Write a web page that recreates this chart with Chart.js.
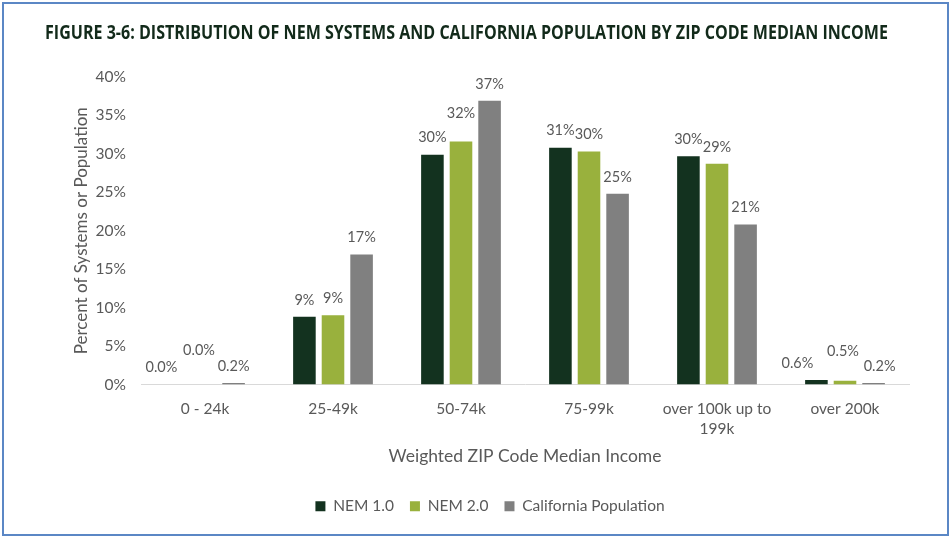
<!DOCTYPE html>
<html>
<head>
<meta charset="utf-8">
<script src="https://cdn.jsdelivr.net/npm/chart.js@4.4.1/dist/chart.umd.min.js"></script>
<style>
  html, body { margin: 0; padding: 0; background: #fff; }
  #wrap { position: relative; width: 952px; height: 538px; }
  #frame { position: absolute; left: 2px; top: 2px; width: 947px; height: 534px;
           box-sizing: border-box; border: 2px solid #5b87c5; pointer-events: none; }
</style>
</head>
<body>
<div id="wrap">
  <canvas id="chart" width="952" height="538"></canvas>
  <div id="frame"></div>
</div>
<script>
const figureTitle = 'FIGURE 3-6: DISTRIBUTION OF NEM SYSTEMS AND CALIFORNIA POPULATION BY ZIP CODE MEDIAN INCOME';
const incomeBands = ['0 - 24k', '25-49k', '50-74k', '75-99k', ['over 100k up to', '199k'], 'over 200k'];
const nem1 = [0.0, 8.8, 29.9, 30.8, 29.7, 0.6];
const nem2 = [0.0, 9.0, 31.6, 30.3, 28.7, 0.5];
const caPopulation = [0.2, 16.9, 36.9, 24.8, 20.8, 0.2];
const yMax = 40;
const yStep = 5;

const textGrey = '#595959';
const baseFont = 'Lato, "Open Sans", sans-serif';

// title drawn by hand so it can start left of the plot and be squeezed like the original condensed face
const titlePlugin = {
  id: 'figTitle',
  afterDraw(chart) {
    const ctx = chart.ctx;
    ctx.save();
    ctx.font = 'bold 20px "Open Sans", sans-serif';
    const w = ctx.measureText(figureTitle).width;
    ctx.translate(45, 39);
    ctx.scale(843 / w, 1);
    ctx.fillStyle = '#122a1a';
    ctx.textBaseline = 'alphabetic';
    ctx.fillText(figureTitle, 0, 0);
    ctx.restore();
  }
};

// value labels above the bars, a few nudged apart like in the original
const labelNudge = { '0-0': [-15, 0], '1-0': [-6, -17], '1-2': [0, -11], '0-5': [-19, 0], '1-5': [-2, -12], '2-5': [6, 0] };
const valueLabels = {
  id: 'valueLabels',
  afterDatasetsDraw(chart) {
    const ctx = chart.ctx;
    ctx.save();
    ctx.font = '14.5px ' + baseFont;
    ctx.fillStyle = textGrey;
    ctx.textAlign = 'center';
    ctx.textBaseline = 'middle';
    chart.data.datasets.forEach((ds, d) => {
      chart.getDatasetMeta(d).data.forEach((bar, i) => {
        const v = ds.data[i];
        const txt = v < 1 ? v.toFixed(1) + '%' : Math.round(v) + '%';
        const n = labelNudge[d + '-' + i] || [0, 0];
        ctx.fillText(txt, bar.x + n[0], bar.y - 17 + n[1]);
      });
    });
    ctx.restore();
  }
};

new Chart(document.getElementById('chart'), {
  type: 'bar',
  data: {
    labels: incomeBands,
    datasets: [
      { label: 'NEM 1.0', data: nem1, backgroundColor: '#13321f' },
      { label: 'NEM 2.0', data: nem2, backgroundColor: '#99b13d' },
      { label: 'California Population', data: caPopulation, backgroundColor: '#808080' }
    ]
  },
  options: {
    responsive: false,
    animation: false,
    categoryPercentage: 0.67,
    barPercentage: 0.79,
    layout: { padding: { left: 71, right: 43, top: 77, bottom: 14 } },
    scales: {
      x: {
        grid: { display: false },
        border: { display: true, color: '#d9d9d9', width: 1 },
        ticks: { color: textGrey, font: { family: baseFont, size: 15.5, lineHeight: 1.3 }, padding: 6, maxRotation: 0, autoSkip: false },
        title: { display: true, text: 'Weighted ZIP Code Median Income', color: textGrey,
                 font: { family: baseFont, size: 17.5 }, padding: { top: 0, bottom: 15.5 } },
        afterFit(s) { s.height = 98; }
      },
      y: {
        min: 0, max: yMax,
        grid: { display: false },
        border: { display: false },
        ticks: { stepSize: yStep, color: textGrey, font: { family: baseFont, size: 15.5 }, padding: 7,
                 callback: v => v + '%' },
        title: { display: true, text: 'Percent of Systems or Population', color: textGrey,
                 font: { family: baseFont, size: 17 }, padding: { top: 0, bottom: 0 } },
        afterFit(s) { s.width = 70; }
      }
    },
    plugins: {
      legend: {
        position: 'bottom',
        labels: { boxWidth: 10, boxHeight: 10, padding: 16, color: textGrey, font: { family: baseFont, size: 15.5 } }
      },
      tooltip: { enabled: false }
    }
  },
  plugins: [titlePlugin, valueLabels]
});
</script>
</body>
</html>
